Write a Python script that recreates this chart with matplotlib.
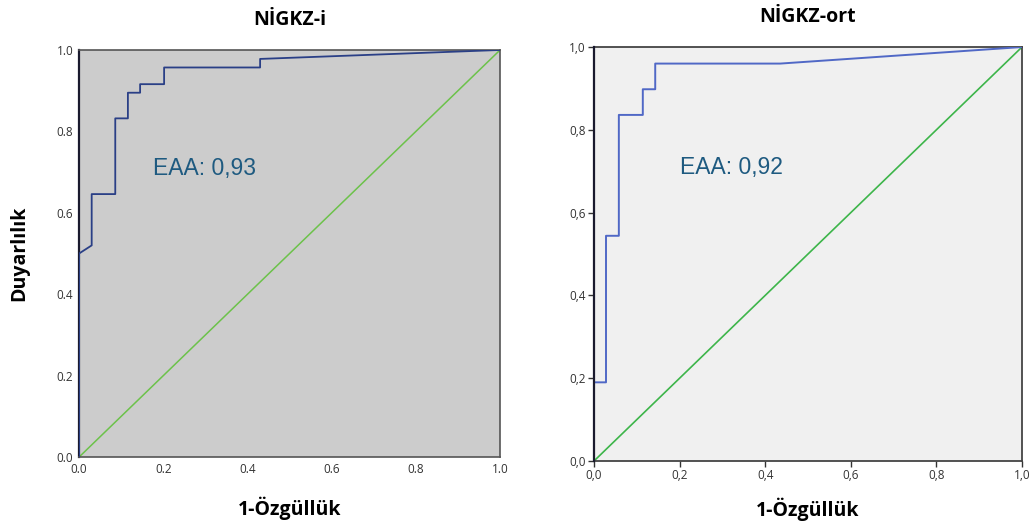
import matplotlib
matplotlib.use("Agg")
import matplotlib.pyplot as plt
from matplotlib.ticker import FuncFormatter

plt.rcParams['font.family'] = ['Open Sans', 'DejaVu Sans']

# Left panel (NİGKZ-i) ROC curve points
fpr_i = [0.0, 0.0, 0.03, 0.03, 0.086, 0.086, 0.116, 0.116, 0.145, 0.145, 0.202, 0.202, 0.43, 0.43, 1.0]
tpr_i = [0.0, 0.50, 0.52, 0.646, 0.646, 0.832, 0.832, 0.895, 0.895, 0.916, 0.916, 0.957, 0.957, 0.978, 1.0]

# Right panel (NİGKZ-ort) ROC curve points
fpr_o = [0.0, 0.0, 0.028, 0.028, 0.058, 0.058, 0.114, 0.114, 0.143, 0.143, 0.435, 1.0]
tpr_o = [0.0, 0.19, 0.19, 0.544, 0.544, 0.836, 0.836, 0.898, 0.898, 0.96, 0.96, 1.0]

ticks = [0.0, 0.2, 0.4, 0.6, 0.8, 1.0]
titles = ["NİGKZ-i", "NİGKZ-ort"]
auc_labels = ["EAA: 0,93", "EAA: 0,92"]
xlabel = "1-Özgüllük"
ylabel = "Duyarlılık"

fig = plt.figure(figsize=(10.32, 5.26), dpi=100)
ax1 = fig.add_axes([0.0766, 0.131, 0.408, 0.774])
ax2 = fig.add_axes([0.5756, 0.1236, 0.4147, 0.787])

text_col = "#1e5a80"

# Left
ax1.set_facecolor("#cccccc")
ax1.plot([0, 1], [0, 1], color="#6cc24a", lw=1.1, zorder=2)
ax1.plot(fpr_i, tpr_i, color="#2a3f86", lw=1.3, zorder=3)
ax1.text(0.176, 0.71, auc_labels[0], color=text_col, fontsize=16.5, va="center", ha="left",
         family=['Liberation Sans', 'DejaVu Sans'])
ax1.set_xlim(0, 1)
ax1.set_ylim(0, 1)
ax1.set_xticks(ticks)
ax1.set_yticks(ticks)
ax1.xaxis.set_major_formatter(FuncFormatter(lambda v, p: f"{v:.1f}"))
ax1.yaxis.set_major_formatter(FuncFormatter(lambda v, p: f"{v:.1f}"))
ax1.tick_params(length=0, labelsize=8.5, colors="#333333", pad=4)
for s in ax1.spines.values():
    s.set_color("#555555")
    s.set_linewidth(1.2)
ax1.spines['left'].set_color("#1a1a2e")
ax1.spines['left'].set_linewidth(1.6)
ax1.set_title(titles[0], fontsize=14, fontweight="bold", pad=18)
ax1.set_xlabel(xlabel, fontsize=14, fontweight="bold", labelpad=15)
ax1.set_ylabel(ylabel, fontsize=14, fontweight="bold", labelpad=20)

# Right
ax2.set_facecolor("#f0f0f0")
ax2.plot([0, 0], [0, 1], color="#1a1a2e", lw=1.6, zorder=4, clip_on=False)
ax2.plot([0, 1], [0, 1], color="#3db54a", lw=1.2, zorder=2)
ax2.plot(fpr_o, tpr_o, color="#5068c6", lw=1.4, zorder=3)
ax2.text(0.2, 0.71, auc_labels[1], color=text_col, fontsize=16.5, va="center", ha="left",
         family=['Liberation Sans', 'DejaVu Sans'])
ax2.set_xlim(0, 1)
ax2.set_ylim(0, 1)
ax2.set_xticks(ticks)
ax2.set_yticks(ticks)
comma = FuncFormatter(lambda v, p: f"{v:.1f}".replace(".", ","))
ax2.xaxis.set_major_formatter(comma)
ax2.yaxis.set_major_formatter(comma)
ax2.tick_params(length=4, width=1, labelsize=8.5, colors="#333333", pad=2, direction="out")
for s in ax2.spines.values():
    s.set_color("#444444")
    s.set_linewidth(1.3)
ax2.set_title(titles[1], fontsize=14, fontweight="bold", pad=18)
ax2.set_xlabel(xlabel, fontsize=14, fontweight="bold", labelpad=11)

fig.savefig("out.png", dpi=100)
